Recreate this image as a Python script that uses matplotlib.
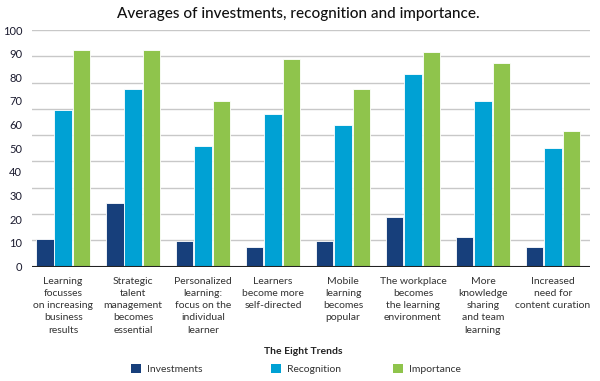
import matplotlib
matplotlib.use("Agg")
import matplotlib.pyplot as plt
from matplotlib.patches import Patch
import numpy as np

categories = [
    "Learning\nfocusses\non increasing\nbusiness\nresults",
    "Strategic\ntalent\nmanagement\nbecomes\nessential",
    "Personalized\nlearning:\nfocus on the\nindividual\nlearner",
    "Learners\nbecome more\nself-directed",
    "Mobile\nlearning\nbecomes\npopular",
    "The workplace\nbecomes\nthe learning\nenvironment",
    "More\nknowledge\nsharing\nand team\nlearning",
    "Increased\nneed for\ncontent curation",
]
investments = [11.6, 26.8, 10.8, 8.4, 10.8, 21.1, 12.3, 8.4]
recognition = [66.2, 74.9, 51.0, 64.5, 59.7, 81.4, 70.1, 50.0]
importance = [91.5, 91.5, 70.1, 87.6, 74.9, 90.8, 86.2, 57.2]
series_names = ["Investments", "Recognition", "Importance"]
yticks = [0, 10, 20, 30, 40, 50, 60, 70, 80, 90, 100]

colors = ["#173F7B", "#00A1D4", "#8FC44C"]
font = "Lato"
plt.rcParams["font.family"] = [font, "DejaVu Sans"]

fig = plt.figure(figsize=(6, 3.81), dpi=100)
ax = fig.add_axes([32 / 600, 1 - 266.5 / 381, 558 / 600, 236.5 / 381])

x = np.arange(len(categories))
w = 0.25
for i, (vals, c) in enumerate(zip([investments, recognition, importance], colors)):
    ax.bar(x + (i - 1) * 0.262, vals, width=w, color=c, edgecolor="white",
           linewidth=0.6, zorder=3)

# decorative gridlines (9 equal intervals, as in the original)
for k in range(1, 10):
    ax.axhline(k * 100 / 9, color="#c8c8c8", linewidth=1.0, zorder=1)
ax.axhline(0, color="#222222", linewidth=1.5, zorder=4)

ax.set_ylim(0, 100)
ax.set_xlim(-0.445, 7.53)
ax.set_yticks(yticks)
ax.set_yticklabels([str(v) for v in yticks], fontsize=8, color="#1a1a2e")
ax.set_xticks(x)
ax.set_xticklabels(categories, fontsize=7.5, color="#333333", linespacing=1.45)
ax.tick_params(axis="both", length=0)
ax.tick_params(axis="y", pad=7)
ax.tick_params(axis="x", pad=7.5)
for s in ax.spines.values():
    s.set_visible(False)

fig.text(0.497, 1 - 14 / 381, "Averages of investments, recognition and importance.",
         ha="center", va="center", fontsize=11, fontweight="medium", color="#111111")
fig.text(0.505, 1 - 352 / 381, "The Eight Trends", ha="center", va="center",
         fontsize=7.5, fontweight="bold", color="#222222")

leg_x = [126 / 600, 266 / 600, 388 / 600]
for name, c, lx in zip(series_names, colors, leg_x):
    fig.legend(handles=[Patch(facecolor=c, edgecolor="none")], labels=[name],
               loc="center left", bbox_to_anchor=(lx, 1 - 369 / 381),
               frameon=False, fontsize=7.5, handlelength=0.9, handleheight=0.9,
               handletextpad=0.6, borderpad=0, labelcolor="#333333")

fig.savefig("out.png", dpi=100)
